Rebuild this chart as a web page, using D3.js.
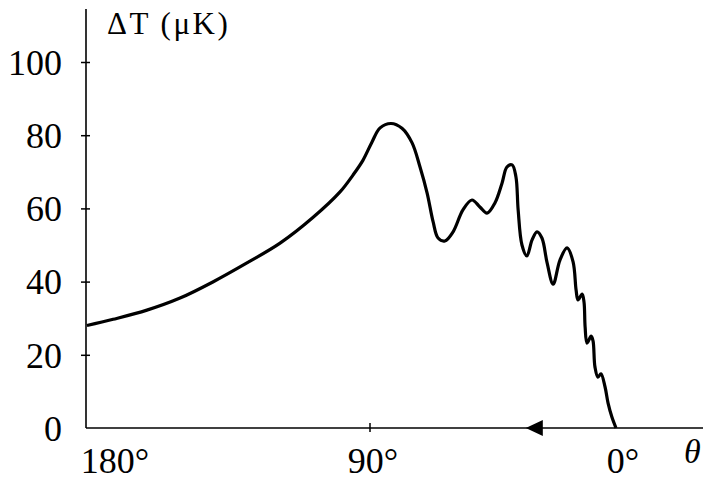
<!DOCTYPE html>
<html>
<head>
<meta charset="utf-8">
<script src="https://cdn.jsdelivr.net/npm/d3@7"></script>
<style>
  body { margin: 0; background: #fff; }
  text { font-family: "Liberation Serif", "DejaVu Serif", serif; fill: #000; }
</style>
</head>
<body>
<div id="viz"></div>
<script>
// angle (degrees), left to right
const theta = [
  179.7, 171.4, 160.7, 150.2, 139.8, 129.0, 118.5, 108.1, 99.5, 95.4,
  92.2, 89.3, 86.3, 82.3, 78.3, 74.6, 71.7, 69.1, 66.9, 65.1, 62.6,
  59.6, 56.0, 52.7, 49.8, 47.2, 44.3, 41.7, 39.9, 38.0, 36.6,
  35.8, 34.4, 32.6, 30.7, 28.9, 27.1, 25.2, 23.0, 20.5, 17.9,
  15.7, 14.6, 13.9, 12.4, 11.7, 11.3, 10.6, 9.1, 8.4, 7.7,
  6.6, 5.5, 4.0, 2.9, 1.5, 0
];
// temperature fluctuation (µK)
const deltaT = [
  28.0, 29.7, 32.2, 35.5, 39.9, 45.1, 50.5, 57.5, 64.5, 69.1,
  73.2, 78.1, 82.0, 83.2, 81.9, 77.9, 71.3, 64.2, 56.3, 51.9, 51.1,
  53.6, 59.6, 62.3, 60.4, 58.7, 61.5, 66.9, 71.3, 71.9, 68.6,
  59.6, 50.0, 47.0, 51.4, 53.6, 51.9, 45.1, 39.3, 45.9, 49.2,
  45.4, 37.7, 35.0, 36.6, 34.4, 27.6, 23.2, 25.1, 23.8, 16.7,
  13.9, 14.8, 11.2, 6.8, 3.0, 0
];
const yTicks = [0, 20, 40, 60, 80, 100];
const xTicks = [180, 90, 0];
const xTickLabels = ["180°", "90°", "0°"];
const arrowAt = 33; // direction arrow on the theta axis

function drawChart() {
  const width = 710;
  const height = 480;
  const data = theta.map((t, i) => ({ t: t, v: deltaT[i] }));

  const svg = d3
    .select("#viz")
    .append("svg")
    .attr("width", width)
    .attr("height", height);

  // the angle axis is not even: the small-angle side is squeezed
  const x = d3.scaleLinear().domain([180, 90, 0]).range([86, 370, 616]);
  const y = d3.scaleLinear().domain([0, 100]).range([428, 62]);

  // y axis
  const yAxis = svg
    .append("g")
    .attr("transform", `translate(${x(180)},0)`)
    .call(d3.axisLeft(y).tickValues(yTicks).tickSize(5));
  yAxis.select(".domain").remove();
  yAxis
    .selectAll(".tick line")
    .attr("x1", -5)
    .attr("x2", 4)
    .attr("stroke-width", 1.5)
    .filter((d) => d === 0)
    .remove();
  yAxis
    .selectAll(".tick text")
    .attr("x", -24)
    .attr("dy", "0.34em")
    .style("font-family", "Liberation Serif")
    .style("font-size", "36px");

  svg
    .append("line")
    .attr("x1", x(180))
    .attr("x2", x(180))
    .attr("y1", 9)
    .attr("y2", y(0))
    .attr("stroke", "#000")
    .attr("stroke-width", 1.6);

  // x axis line
  svg
    .append("line")
    .attr("x1", x(180))
    .attr("x2", 703)
    .attr("y1", y(0))
    .attr("y2", y(0))
    .attr("stroke", "#000")
    .attr("stroke-width", 1.6);

  // only 90 deg has a tick mark
  svg
    .append("line")
    .attr("x1", x(90))
    .attr("x2", x(90))
    .attr("y1", y(0) - 5)
    .attr("y2", y(0) + 4)
    .attr("stroke", "#000")
    .attr("stroke-width", 1.5);

  // x tick labels, the end ones nudged off the axis ends
  const labelShift = [29, 3, 7];
  svg
    .selectAll("text.x-label")
    .data(xTicks)
    .enter()
    .append("text")
    .classed("x-label", true)
    .text((d, i) => xTickLabels[i])
    .attr("x", (d, i) => x(d) + labelShift[i])
    .attr("y", 473)
    .style("text-anchor", "middle")
    .style("font-size", "36px");

  // direction arrow
  const ax = x(arrowAt);
  svg
    .append("path")
    .attr("d", `M${ax},${y(0)} L${ax + 17},${y(0) - 8} L${ax + 17},${y(0) + 8} Z`)
    .attr("fill", "#000");

  // curve
  const line = d3
    .line()
    .x((d) => x(d.t))
    .y((d) => y(d.v))
    .curve(d3.curveCatmullRom.alpha(0.5));

  svg
    .append("path")
    .datum(data)
    .attr("d", line)
    .attr("fill", "none")
    .attr("stroke", "#000")
    .attr("stroke-width", 3.2)
    .attr("stroke-linejoin", "round");

  // axis titles
  svg
    .append("text")
    .text("ΔT (μK)")
    .attr("x", 107)
    .attr("y", 34)
    .style("font-size", "31px")
    .style("letter-spacing", "2.5px");

  svg
    .append("text")
    .text("θ")
    .attr("x", 684)
    .attr("y", 463)
    .style("font-size", "34px")
    .style("font-style", "italic");
}

drawChart();
</script>
</body>
</html>
